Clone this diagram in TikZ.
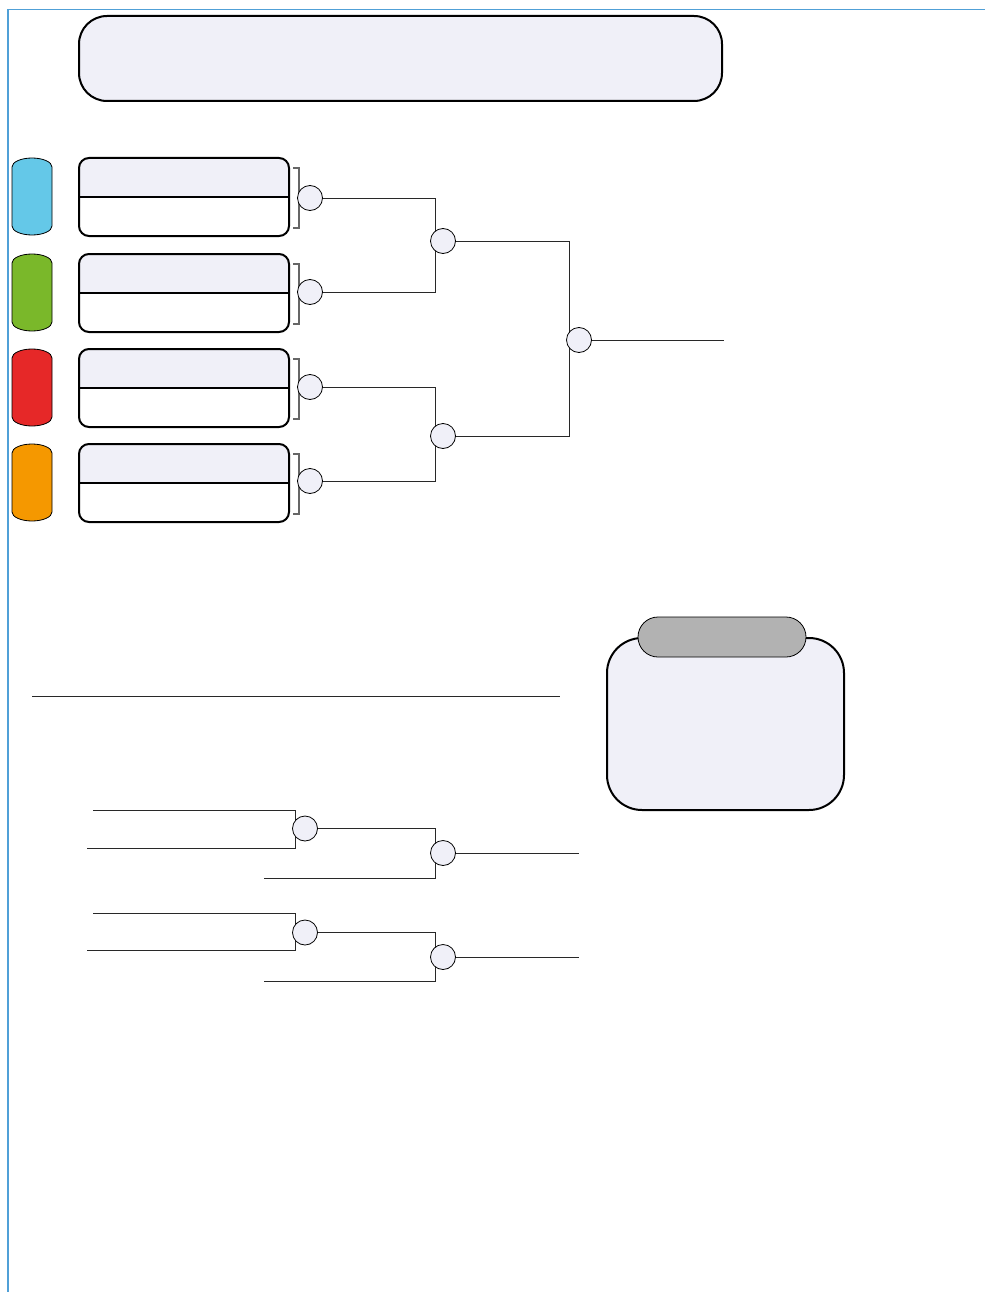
\documentclass[tikz,border=0pt]{standalone}
\usetikzlibrary{calc}
\definecolor{lav}{RGB}{240,240,248}
\definecolor{frameblue}{RGB}{80,160,215}
\definecolor{pblue}{RGB}{100,200,232}
\definecolor{pgreen}{RGB}{122,184,42}
\definecolor{pred}{RGB}{230,40,40}
\definecolor{porange}{RGB}{245,152,0}
\definecolor{tabgray}{RGB}{178,178,178}
\definecolor{wire}{RGB}{40,40,40}
\begin{document}
\begin{tikzpicture}[x=1pt,y=-1pt,
  boxframe/.style={draw=black,line width=2pt,rounded corners=10pt,minimum width=210pt,minimum height=78pt,inner sep=0pt},
  dot/.style={circle,draw=black,fill=lav,line width=0.8pt,minimum size=25pt,inner sep=0pt},
  wireline/.style={draw=wire,line width=1pt},
  brk/.style={draw=gray!80!black,line width=1.2pt},
  pill/.style={draw=black,line width=0.8pt}]
\useasboundingbox (0,0) rectangle (985,1292);
% frame
\draw[frameblue,line width=1.2pt] (8,1292) -- (8,9.5) -- (985,9.5);
% banner
\node[draw=black,fill=lav,line width=2pt,rounded corners=28pt,minimum width=643pt,minimum height=85pt,inner sep=0pt] (banner) at (400.5,58.5) {};
% color pills
\foreach \c/\yt in {pblue/158,pgreen/254,pred/349,porange/444}{
  \path[pill,fill=\c] (12,\yt+9) arc[start angle=180,end angle=360,x radius=20,y radius=9]
     -- (52,\yt+68) arc[start angle=0,end angle=180,x radius=20,y radius=9] -- cycle;
}
% player boxes
\foreach \yt/\nm in {158/b1,254/b2,349/b3,444/b4}{
  \begin{scope}
    \clip[rounded corners=10pt] (79,\yt) rectangle (289,\yt+78);
    \fill[lav] (79,\yt) rectangle (289,\yt+39);
  \end{scope}
  \node[boxframe] (\nm) at (184,\yt+39) {};
  \draw[line width=2pt] (\nm.west) -- (\nm.east);
  \draw[brk] (293,\yt+10) -- (299,\yt+10) -- (299,\yt+70) -- (293,\yt+70);
}
% circles
\coordinate (c1) at (310,198);
\coordinate (c2) at (310,292);
\coordinate (c3) at (310,387);
\coordinate (c4) at (310,481);
\coordinate (s1) at (443,241);
\coordinate (s2) at (443,436);
\coordinate (f1) at (579,340);
\coordinate (fend) at (724,340);
% connectors
\draw[wireline] (c1) -- (435,198) -- (435,292) -- (c2);
\draw[wireline] (c3) -- (435,387) -- (435,481) -- (c4);
\draw[wireline] (s1) -- (569,241) -- (569,436) -- (s2);
\draw[wireline] (f1) -- (fend);
\foreach \n in {c1,c2,c3,c4,s1,s2,f1}{ \node[dot] (d\n) at (\n) {}; }
% separator
\draw[wireline] (32,696) -- (560,696);
% lower brackets
\foreach \ya/\yb/\yc/\yd/\ye/\n in {810/848/828.5/878/853/u,913/950/932.5/981/957/v}{
  \coordinate (\n a) at (305,\yc);
  \coordinate (\n b) at (443,\ye);
  \coordinate (\n e) at (579,\ye);
  \draw[wireline] (93,\ya) -- (295,\ya) -- (295,\yb) -- (87,\yb);
  \draw[wireline] (\n a) -- (435,\yc) -- (435,\yd) -- (264,\yd);
  \draw[wireline] (\n b) -- (\n e);
  \node[dot] (d\n a) at (\n a) {};
  \node[dot] (d\n b) at (\n b) {};
}
% info box
\node[draw=black,fill=lav,line width=2pt,rounded corners=35pt,minimum width=237pt,minimum height=172pt,inner sep=0pt] (info) at (725.5,724) {};
\node[draw=black,fill=tabgray,line width=0.8pt,rounded corners=20pt,minimum width=168pt,minimum height=40pt,inner sep=0pt] (tab) at (722,637) {};
\end{tikzpicture}
\end{document}
